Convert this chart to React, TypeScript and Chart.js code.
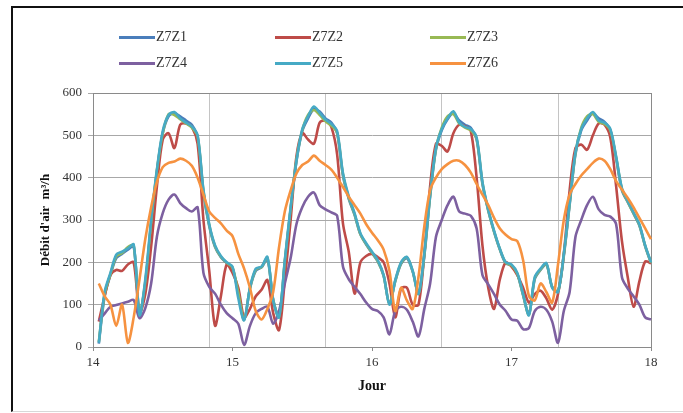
import React, { useEffect, useRef } from "react";
import { Chart, registerables } from "chart.js";

Chart.register(...registerables);

// Hourly samples from day 14 00:00 to day 18 00:00 (97 points)
const hourLabels: string[] = Array.from({ length: 97 }, (_, i) => (i % 24 === 0 ? String(14 + i / 24) : ""));
const yTicks = [0, 100, 200, 300, 400, 500, 600];

const seriesNames = ["Z7Z1", "Z7Z2", "Z7Z3", "Z7Z4", "Z7Z5", "Z7Z6"];
const seriesColors = ["#4A7EBB", "#BE4B48", "#98B954", "#7D60A0", "#46AAC5", "#F69240"];

const z7z1 = [
  null, 8, 120, 170, 210, 220, 230, 238, 80, 150, 290, 415, 505, 545, 552, 545, 535, 525, 495, 365, 285, 236, 212, 198,
  186, 125, 65, 138, 180, 188, 208, 112, 72, 200, 325, 438, 510, 540, 562, 556, 540, 530, 505, 405, 350, 312, 266, 242,
  222, 202, 168, 102, 155, 196, 210, 178, 128, 215, 355, 466, 512, 538, 552, 535, 525, 518, 490, 385, 322, 272, 230, 198,
  192, 172, 122, 78, 160, 182, 195, 142, 132, 215, 335, 455, 512, 535, 552, 540, 532, 512, 445, 370, 342, 315, 287, 238, 198,
];
const z7z2 = [
  null, 60, 120, 170, 182, 180, 195, 200, 80, 125, 237, 380, 490, 505, 470, 525, 528, 520, 480, 300, 180, 50, 120, 195,
  175, 140, 70, 90, 120, 135, 158, 80, 40, 158, 300, 450, 505, 490, 480, 530, 535, 520, 455, 292, 225, 126, 200, 215,
  220, 212, 200, 150, 70, 138, 140, 100, 100, 220, 380, 480, 475, 462, 505, 525, 522, 510, 400, 240, 140, 90, 160, 200,
  190, 170, 140, 105, 125, 133, 115, 88, 125, 220, 370, 470, 478, 466, 500, 528, 525, 495, 380, 250, 165, 95, 155, 202, 198,
];
const z7z3 = [
  null, 12, 125, 172, 214, 222, 236, 240, 78, 155, 295, 418, 505, 550, 548, 538, 528, 518, 498, 368, 288, 238, 213, 199,
  188, 128, 64, 139, 183, 189, 211, 111, 71, 203, 328, 442, 512, 548, 560, 548, 533, 523, 506, 408, 353, 314, 267, 243,
  223, 203, 169, 101, 156, 198, 212, 179, 126, 218, 358, 468, 518, 545, 550, 528, 518, 512, 492, 388, 323, 273, 231, 199,
  193, 173, 123, 76, 163, 183, 196, 141, 131, 218, 338, 458, 518, 545, 550, 532, 527, 512, 448, 373, 343, 316, 288, 239, 199,
];
const z7z4 = [
  null, 63, 79, 95, 99, 103, 107, 111, 68, 92, 150, 261, 316, 348, 360, 340, 328, 320, 330, 175, 142, 126, 100, 80,
  68, 55, 5, 50, 80, 90, 95, 55, 85, 150, 210, 290, 330, 355, 365, 335, 325, 318, 310, 190, 160, 142, 125, 105,
  90, 85, 70, 30, 85, 95, 88, 60, 25, 90, 150, 260, 300, 335, 355, 320, 315, 310, 280, 170, 148, 125, 100, 85,
  65, 62, 42, 45, 85, 95, 88, 60, 10, 85, 130, 260, 300, 335, 355, 325, 312, 308, 290, 165, 138, 120, 100, 70, 65,
];
const z7z5 = [
  null, 10, 130, 175, 218, 225, 233, 242, 75, 160, 300, 420, 510, 548, 555, 540, 530, 521, 500, 371, 290, 240, 215, 200,
  190, 115, 63, 140, 185, 190, 213, 110, 70, 205, 330, 440, 514, 545, 568, 553, 537, 527, 510, 411, 356, 316, 269, 245,
  225, 205, 170, 100, 158, 200, 213, 180, 125, 220, 360, 470, 515, 540, 557, 530, 520, 515, 495, 390, 325, 275, 232, 200,
  195, 175, 125, 75, 165, 185, 198, 140, 130, 220, 340, 460, 515, 540, 555, 535, 530, 515, 450, 375, 345, 318, 290, 240, 200,
];
const z7z6 = [
  null, 150, 120, 100, 50, 100, 10, 70, 160, 255, 330, 390, 425, 435, 438, 445, 440, 428, 400, 360, 320, 305, 292, 275,
  262, 220, 185, 140, 85, 65, 90, 130, 235, 320, 370, 410, 430, 438, 452, 440, 430, 419, 400, 378, 355, 335, 315, 290,
  270, 252, 230, 180, 85, 140, 110, 90, 166, 285, 371, 400, 420, 432, 440, 440, 430, 412, 385, 360, 335, 305, 280, 265,
  255, 250, 205, 120, 110, 150, 130, 105, 195, 300, 360, 385, 405, 420, 435, 445, 440, 420, 392, 372, 352, 330, 305, 280, 255,
];
const seriesData = [z7z1, z7z2, z7z3, z7z4, z7z5, z7z6];

const FONT = "'Liberation Serif', 'Times New Roman', serif";

const plotBorder = {
  id: "plotBorder",
  beforeDatasetsDraw(chart: any) {
    const { ctx, chartArea } = chart;
    ctx.save();
    ctx.strokeStyle = "#8a8a8a";
    ctx.lineWidth = 1;
    ctx.strokeRect(chartArea.left + 0.5, chartArea.top + 0.5, chartArea.right - chartArea.left, chartArea.bottom - chartArea.top);
    ctx.restore();
  },
};

export default function App() {
  const ref = useRef<HTMLCanvasElement | null>(null);

  useEffect(() => {
    if (!ref.current) return;
    const chart = new Chart(ref.current, {
      type: "line",
      data: {
        labels: hourLabels,
        datasets: seriesNames.map((name, i) => ({
          label: name,
          data: seriesData[i],
          borderColor: seriesColors[i],
          backgroundColor: seriesColors[i],
          borderWidth: 2.6,
          pointRadius: 0,
          tension: 0.3,
          fill: false,
          order: 6 - i,
          xAxisID: "x",
        })),
      },
      options: {
        animation: false,
        responsive: false,
        maintainAspectRatio: false,
        layout: { padding: { left: 36, top: 93, right: 32, bottom: 18 } },
        plugins: { legend: { display: false }, tooltip: { enabled: false }, title: { display: false } },
        scales: {
          x: {
            type: "category",
            position: "bottom",
            offset: false,
            afterBuildTicks: (axis: any) => {
              axis.ticks = axis.ticks.filter((t: any) => t.value % 24 === 0);
            },
            afterFit: (axis: any) => {
              axis.height = 413 - 347 - 18;
            },
            grid: { drawOnChartArea: false, drawTicks: true, tickLength: 4, color: "#8a8a8a" },
            border: { display: true, color: "#8a8a8a" },
            ticks: {
              autoSkip: false,
              maxRotation: 0,
              padding: 4,
              color: "#333",
              font: { family: FONT, size: 13 },
              callback: function (this: any, value: any) {
                return this.getLabelForValue(value);
              },
            },
            title: {
              display: true,
              text: "Jour",
              color: "#111",
              font: { family: FONT, size: 14, weight: "bold" },
              padding: { top: 4, bottom: 0 },
            },
          },
          x2: {
            type: "category",
            position: "top",
            offset: false,
            afterBuildTicks: (axis: any) => {
              axis.ticks = axis.ticks.filter((t: any) => t.value % 20 === 0);
            },
            afterFit: (axis: any) => {
              axis.height = 0;
            },
            grid: { drawOnChartArea: true, drawTicks: false, color: "#c4c4c4", lineWidth: 1 },
            border: { display: false },
            ticks: { display: false, autoSkip: false },
          },
          y: {
            min: 0,
            max: 600,
            afterBuildTicks: (axis: any) => {
              axis.ticks = yTicks.map((v) => ({ value: v }));
            },
            afterFit: (axis: any) => {
              axis.width = 93 - 36;
            },
            grid: { color: "#a8a8a8", lineWidth: 1, drawTicks: true, tickLength: 5 },
            border: { display: true, color: "#8a8a8a" },
            ticks: {
              padding: 6,
              color: "#333",
              font: { family: FONT, size: 13 },
            },
            title: {
              display: true,
              text: "Débit d'air  m³/h",
              color: "#111",
              font: { family: FONT, size: 13, weight: "bold" },
              padding: { top: 2, bottom: 2 },
            },
          },
        },
      },
      plugins: [plotBorder],
    } as any);
    return () => chart.destroy();
  }, []);

  const legendCols = [119, 275, 430];
  const legendRows = [37, 63];

  return (
    <div
      style={{
        position: "fixed",
        left: 0,
        top: 0,
        width: 683,
        height: 413,
        overflow: "hidden",
        background: "#fff",
      }}
    >
      <div
        style={{
          position: "absolute",
          left: 11,
          top: 6,
          width: 700,
          height: 403,
          borderTop: "2px solid #111",
          borderLeft: "2px solid #111",
          borderBottom: "1px solid #d8d8d8",
        }}
      />
      <canvas ref={ref} width={683} height={413} style={{ position: "absolute", left: 0, top: 0 }} />
      {seriesNames.map((name, i) => {
        const col = i % 3;
        const row = Math.floor(i / 3);
        return (
          <div
            key={name}
            style={{
              position: "absolute",
              left: legendCols[col],
              top: legendRows[row] - 9,
              height: 18,
              display: "flex",
              alignItems: "center",
              fontFamily: FONT,
              fontSize: 14,
              color: "#333",
            }}
          >
            <span style={{ display: "inline-block", width: 36, height: 3, background: seriesColors[i], marginRight: 1 }} />
            <span>{name}</span>
          </div>
        );
      })}
    </div>
  );
}
